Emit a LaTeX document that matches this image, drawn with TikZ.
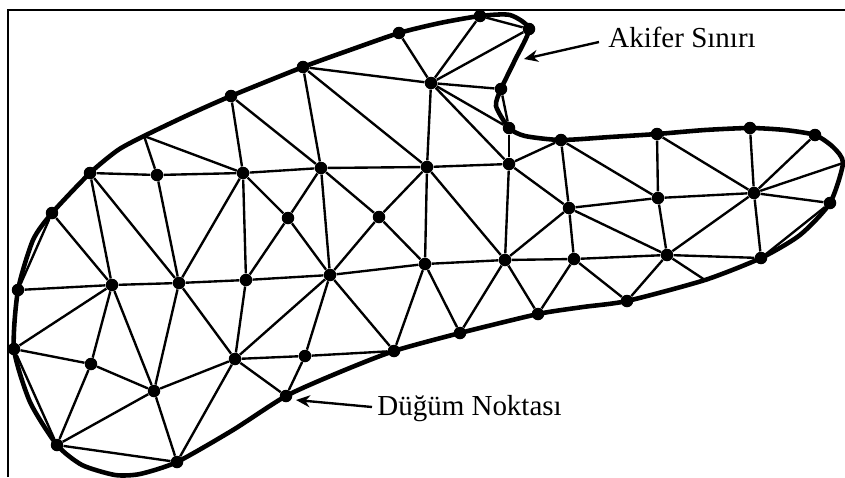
\documentclass[tikz,border=0pt]{standalone}
\usepackage{fontspec}
\setmainfont{Liberation Serif}
\usetikzlibrary{arrows.meta}

\tikzset{
    dot/.style = {circle, fill=black, inner sep=0pt, minimum size=0.25cm},
    mesh/.style = {line width=1.35pt},
    boundary/.style = {line width=2.6pt},
    pointer/.style = {line width=1.35pt, -{Stealth[length=0.28cm, width=0.24cm]}},
    callout/.style = {anchor=base west, font=\fontsize{16.5pt}{18pt}\selectfont}
}

\begin{document}
\begin{tikzpicture}[x=0.02cm, y=-0.02cm]

    \useasboundingbox (0,0) rectangle (845,477);

    % Frame
    \draw[line width=1.6pt] (8,477) -- (8,10) -- (845,10);

    % Nodes on the boundary
    \node[dot] (b1) at (14,349) {};
    \node[dot] (b2) at (18,290) {};
    \node[dot] (b3) at (52,213) {};
    \node[dot] (b4) at (90,173) {};
    \coordinate (b5) at (144,136);
    \node[dot] (b6) at (231,96) {};
    \node[dot] (b7) at (303,67) {};
    \node[dot] (b8) at (399,33) {};
    \node[dot] (b9) at (480,16) {};
    \node[dot] (b10) at (529,29) {};
    \node[dot] (b11) at (501,89) {};
    \node[dot] (b12) at (509,128) {};
    \node[dot] (b13) at (561,140) {};
    \node[dot] (b14) at (657,134) {};
    \node[dot] (b15) at (750,128) {};
    \node[dot] (b16) at (815,135) {};
    \coordinate (b17) at (843,163);
    \node[dot] (b18) at (830,203) {};
    \node[dot] (b19) at (761,258) {};
    \coordinate (b20) at (705,280);
    \node[dot] (b21) at (627,301) {};
    \node[dot] (b22) at (538,314) {};
    \node[dot] (b23) at (460,333) {};
    \node[dot] (b24) at (394,351) {};
    \node[dot] (b25) at (286,396) {};
    \node[dot] (b26) at (177,462) {};
    \node[dot] (b27) at (57,445) {};

    % Inner nodes
    \node[dot] (u1) at (157,175) {};
    \node[dot] (u2) at (243,173) {};
    \node[dot] (u3) at (321,168) {};
    \node[dot] (u4) at (427,167) {};
    \node[dot] (u5) at (509,164) {};
    \node[dot] (u6) at (431,83) {};
    \node[dot] (c1) at (288,218) {};
    \node[dot] (c2) at (379,217) {};
    \node[dot] (c3) at (569,208) {};
    \node[dot] (c4) at (658,198) {};
    \node[dot] (c5) at (754,193) {};
    \node[dot] (m1) at (112,285) {};
    \node[dot] (m2) at (179,283) {};
    \node[dot] (m3) at (246,280) {};
    \node[dot] (m4) at (330,275) {};
    \node[dot] (m5) at (425,264) {};
    \node[dot] (m6) at (505,260) {};
    \node[dot] (m7) at (574,259) {};
    \node[dot] (m8) at (667,255) {};
    \node[dot] (l1) at (91,364) {};
    \node[dot] (l2) at (154,391) {};
    \node[dot] (l3) at (235,359) {};
    \node[dot] (l4) at (305,356) {};

    % Outline
    \draw[boundary] plot [smooth cycle, tension=0.4] coordinates {
        (b1) (b2) (33,240) (b3) (b4) (118,150) (b5) (188,115) (b6) (b7) (350,50) (b8) (440,23) (b9) (510,15) (b10)
        (515,60) (b11) (496,106) (b12) (525,136) (b13) (610,137) (b14) (705,130) (b15) (785,130) (b16) (833,147) (b17)
        (b18) (800,235) (b19) (b20) (b21) (583,307) (b22) (b23) (b24) (340,372) (b25) (233,430) (b26) (140,474) (115,475)
        (82,465) (b27) (30,402)};

    % Long rows
    \draw[mesh] (b4) -- (u1) -- (u2) -- (u3) -- (u4) -- (u5);
    \draw[mesh] (b2) -- (m1) -- (m2) -- (m3) -- (m4) -- (m5) -- (m6) -- (m7) -- (m8) -- (b19);
    \draw[mesh] (b1) -- (l1) -- (l2) -- (l3) -- (l4) -- (b24);
    \draw[mesh] (c3) -- (c4) -- (c5) -- (b18);

    % Top part
    \draw[mesh] (b3) -- (b2);
    \draw[mesh] (b3) -- (m1);
    \draw[mesh] (b4) -- (m1);
    \draw[mesh] (b4) -- (m2);
    \draw[mesh] (b5) -- (u1);
    \draw[mesh] (b5) -- (u2);
    \draw[mesh] (b6) -- (u2);
    \draw[mesh] (b6) -- (u3);
    \draw[mesh] (b7) -- (u3);
    \draw[mesh] (b7) -- (u4);
    \draw[mesh] (b7) -- (u6);
    \draw[mesh] (b8) -- (u6);
    \draw[mesh] (b9) -- (u6);
    \draw[mesh] (b9) -- (b10);
    \draw[mesh] (b10) -- (u6);
    \draw[mesh] (b11) -- (u6);
    \draw[mesh] (b12) -- (u6);
    \draw[mesh] (b11) -- (b12);
    \draw[mesh] (b12) -- (u5);
    \draw[mesh] (u4) -- (u6);
    \draw[mesh] (u5) -- (u6);

    % Middle part
    \draw[mesh] (u1) -- (m2);
    \draw[mesh] (u2) -- (m2);
    \draw[mesh] (u2) -- (m3);
    \draw[mesh] (u2) -- (c1);
    \draw[mesh] (u3) -- (c1);
    \draw[mesh] (u3) -- (m4);
    \draw[mesh] (u3) -- (c2);
    \draw[mesh] (u4) -- (c2);
    \draw[mesh] (u4) -- (m5);
    \draw[mesh] (u4) -- (m6);
    \draw[mesh] (c1) -- (m3);
    \draw[mesh] (c1) -- (m4);
    \draw[mesh] (c2) -- (m4);
    \draw[mesh] (c2) -- (m5);
    \draw[mesh] (u5) -- (b13);
    \draw[mesh] (u5) -- (c3);
    \draw[mesh] (u5) -- (m6);
    \draw[mesh] (b13) -- (c3);
    \draw[mesh] (b13) -- (c4);
    \draw[mesh] (b14) -- (c4);
    \draw[mesh] (b14) -- (c5);
    \draw[mesh] (b15) -- (c5);
    \draw[mesh] (b16) -- (c5);
    \draw[mesh] (b17) -- (c5);
    \draw[mesh] (b18) -- (b19);
    \draw[mesh] (c3) -- (m6);
    \draw[mesh] (c3) -- (m7);
    \draw[mesh] (c3) -- (m8);
    \draw[mesh] (c4) -- (m8);
    \draw[mesh] (c5) -- (m8);
    \draw[mesh] (c5) -- (b19);

    % Lower part
    \draw[mesh] (m1) -- (b1);
    \draw[mesh] (m1) -- (l1);
    \draw[mesh] (m1) -- (l2);
    \draw[mesh] (m2) -- (l2);
    \draw[mesh] (m2) -- (l3);
    \draw[mesh] (m3) -- (l3);
    \draw[mesh] (m4) -- (l3);
    \draw[mesh] (m4) -- (l4);
    \draw[mesh] (m4) -- (b24);
    \draw[mesh] (m5) -- (b24);
    \draw[mesh] (m5) -- (b23);
    \draw[mesh] (m6) -- (b23);
    \draw[mesh] (m6) -- (b22);
    \draw[mesh] (m7) -- (b22);
    \draw[mesh] (m7) -- (b21);
    \draw[mesh] (m8) -- (b21);
    \draw[mesh] (m8) -- (b20);
    \draw[mesh] (b1) -- (b27);
    \draw[mesh] (l1) -- (b27);
    \draw[mesh] (l2) -- (b27);
    \draw[mesh] (l2) -- (b26);
    \draw[mesh] (l3) -- (b26);
    \draw[mesh] (l3) -- (b25);
    \draw[mesh] (l4) -- (b25);
    \draw[mesh] (b27) -- (b26);

    % Labels
    \node[callout, inner sep=0pt] (akifer) at (608,47) {Akifer Sınırı};
    \node[callout, inner sep=0pt] (dugum) at (377,415) {Düğüm Noktası};
    \coordinate (akiferTip) at (524,59);
    \coordinate (dugumTip) at (296,400);
    \draw[pointer] ([shift={(-9,-5)}]akifer.base west) -- (akiferTip);
    \draw[pointer] ([shift={(-5,-8)}]dugum.base west) -- (dugumTip);
\end{tikzpicture}
\end{document}
